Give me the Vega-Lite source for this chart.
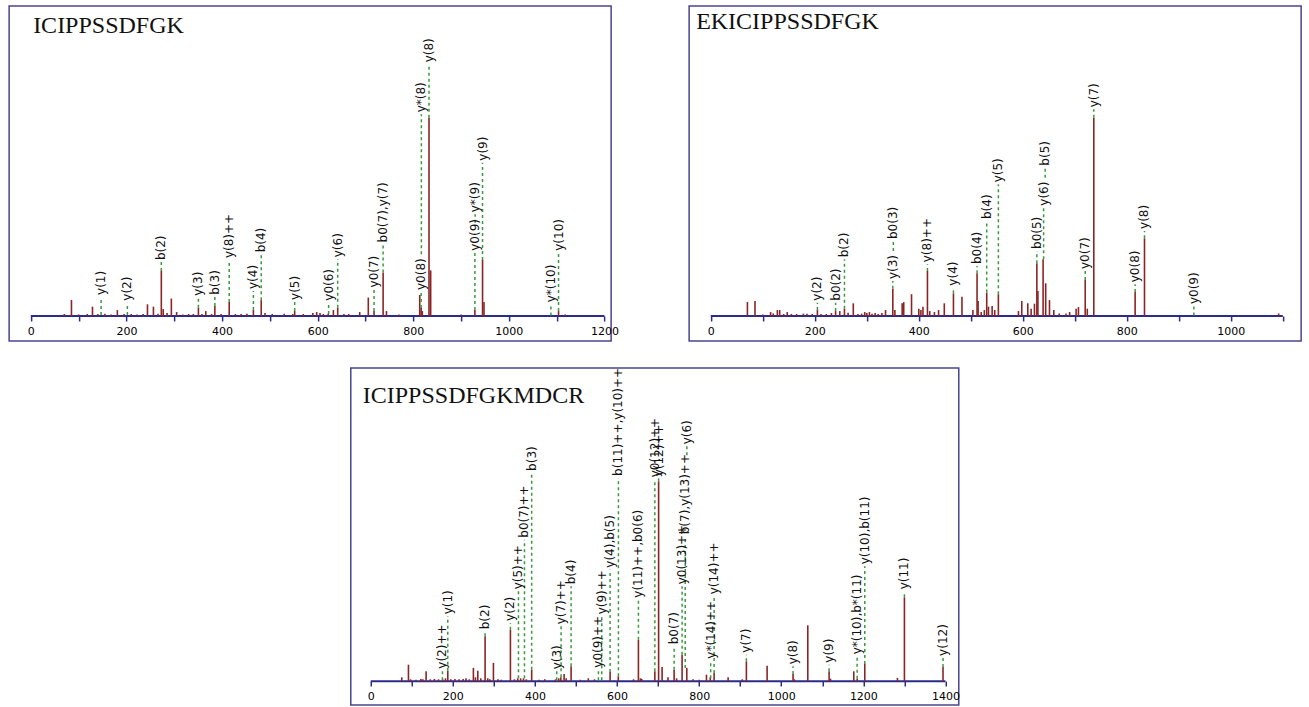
{
  "$schema": "https://vega.github.io/schema/vega-lite/v6.json",
  "padding": {"left": 8, "top": 5, "right": 0, "bottom": 0},
  "background": "white",
  "config": {
    "view": {"stroke": "#4a4590", "strokeWidth": 1.5},
    "axis": {"domain": false, "grid": false, "tickColor": "#2b2b8c", "tickSize": 5, "tickWidth": 1.5, "labelFont": "DejaVu Sans", "labelFontSize": 11, "labelColor": "#000", "labelPadding": 4, "title": null, "labelFlush": false, "labelOverlap": false, "format": "d"},
    "title": {"font": "Liberation Serif", "fontSize": 24, "fontWeight": "normal", "color": "#111", "anchor": "start", "baseline": "alphabetic"}
  },
  "datasets": {
    "p1p": [
      {"mz":70,"h":1},{"mz":85,"h":8.1},{"mz":100,"h":0.8},{"mz":118,"h":1},{"mz":129,"h":4.7},{"mz":140,"h":1},{"mz":155,"h":1.2},{"mz":168,"h":0.8},{"mz":181,"h":3},{"mz":195,"h":1},{"mz":210,"h":1},{"mz":222,"h":0.8},{"mz":235,"h":1},{"mz":244,"h":5.9},{"mz":256.5,"h":4.7},{"mz":266,"h":1.2},{"mz":273,"h":22.7},{"mz":277,"h":3.5},{"mz":285,"h":1.5},{"mz":294,"h":8.8},{"mz":305,"h":2},{"mz":318,"h":0.8},{"mz":330,"h":1},{"mz":340,"h":1},{"mz":350.6,"h":4.2},{"mz":358,"h":1},{"mz":366,"h":2.5},{"mz":378,"h":1},{"mz":385,"h":5},{"mz":398,"h":1},{"mz":415,"h":7},{"mz":428,"h":1},{"mz":440,"h":1},{"mz":452,"h":1.2},{"mz":465.6,"h":3},{"mz":482,"h":8},{"mz":490,"h":1.5},{"mz":505,"h":1},{"mz":530,"h":1.2},{"mz":548,"h":1},{"mz":552,"h":2.5},{"mz":570,"h":1},{"mz":590,"h":1.5},{"mz":598,"h":2},{"mz":605,"h":1.5},{"mz":612,"h":1},{"mz":622,"h":1.2},{"mz":633,"h":3},{"mz":642,"h":4.2},{"mz":655,"h":1},{"mz":665,"h":1},{"mz":688,"h":2},{"mz":706,"h":9.3},{"mz":718,"h":2.5},{"mz":737,"h":21.9},{"mz":744,"h":2.5},{"mz":770,"h":0.8},{"mz":813.6,"h":10.6},{"mz":816.5,"h":4},{"mz":819,"h":2.5},{"mz":833,"h":100},{"mz":836.5,"h":23},{"mz":900,"h":0.8},{"mz":929,"h":3},{"mz":945,"h":28.3},{"mz":948,"h":7},{"mz":1104,"h":2.5},{"mz":1118,"h":0.8}
    ],
    "p1l": [
      {"mz":147,"lo":0.5,"hi":9.6,"lab":"y(1)"},
      {"mz":202,"lo":0.5,"hi":6.7,"lab":"y(2)"},
      {"mz":273,"lo":22.7,"hi":27.2,"lab":"b(2)"},
      {"mz":350.6,"lo":4.2,"hi":9.2,"lab":"y(3)"},
      {"mz":385,"lo":5,"hi":9.7,"lab":"b(3)"},
      {"mz":415,"lo":7,"hi":28.2,"lab":"y(8)++"},
      {"mz":465.6,"lo":3,"hi":12.6,"lab":"y(4)"},
      {"mz":482,"lo":8,"hi":31.1,"lab":"b(4)"},
      {"mz":552,"lo":2.5,"hi":7.1,"lab":"y(5)"},
      {"mz":623,"lo":1,"hi":6.7,"lab":"y0(6)"},
      {"mz":642,"lo":4.2,"hi":28.6,"lab":"y(6)"},
      {"mz":718,"lo":2.5,"hi":13.4,"lab":"y0(7)"},
      {"mz":737,"lo":21.9,"hi":36.1,"lab":"b0(7),y(7)"},
      {"mz":816.5,"lo":4,"hi":12.1,"lab":"y0(8)"},
      {"mz":817,"lo":31.1,"hi":101.7,"lab":"y*(8)"},
      {"mz":833,"lo":100,"hi":126.9,"lab":"y(8)"},
      {"mz":929,"lo":3,"hi":31.9,"lab":"y0(9)"},
      {"mz":929.5,"lo":47,"hi":51.3,"lab":"y*(9)"},
      {"mz":945,"lo":28.3,"hi":77.3,"lab":"y(9)"},
      {"mz":1088,"lo":0.3,"hi":5.9,"lab":"y*(10)"},
      {"mz":1104,"lo":2.5,"hi":31.9,"lab":"y(10)"}
    ],
    "p2p": [
      {"mz":70.4,"h":7.1},{"mz":85,"h":7.6},{"mz":100,"h":0.8},{"mz":115,"h":2},{"mz":120,"h":1.3},{"mz":128,"h":3},{"mz":132.5,"h":3},{"mz":140,"h":1},{"mz":147,"h":2},{"mz":155,"h":1},{"mz":165,"h":1},{"mz":178,"h":1.2},{"mz":185,"h":1.2},{"mz":195,"h":1},{"mz":205,"h":3},{"mz":212,"h":1},{"mz":222,"h":1},{"mz":232,"h":1.5},{"mz":240,"h":2.5},{"mz":248,"h":2.5},{"mz":257,"h":3.7},{"mz":264,"h":1.7},{"mz":274,"h":6.4},{"mz":283,"h":1},{"mz":290,"h":1.2},{"mz":296,"h":2},{"mz":300,"h":1.5},{"mz":305,"h":2},{"mz":310,"h":1.2},{"mz":316,"h":1.5},{"mz":322,"h":1},{"mz":329,"h":1.5},{"mz":336,"h":3},{"mz":350,"h":13.8},{"mz":354,"h":3},{"mz":368,"h":6.4},{"mz":371,"h":7},{"mz":386,"h":11},{"mz":400,"h":3.7},{"mz":404,"h":3},{"mz":408,"h":4.7},{"mz":416.6,"h":22.7},{"mz":421,"h":2.5},{"mz":430,"h":2},{"mz":438,"h":3},{"mz":449,"h":6.4},{"mz":466.6,"h":11.4},{"mz":483,"h":9.7},{"mz":504,"h":3},{"mz":512,"h":21.5},{"mz":514,"h":7.6},{"mz":520,"h":2},{"mz":526,"h":3},{"mz":530.6,"h":11.8},{"mz":534,"h":4.7},{"mz":541,"h":5},{"mz":546,"h":3},{"mz":553,"h":11},{"mz":591.6,"h":2.5},{"mz":598,"h":7.6},{"mz":609.6,"h":6.4},{"mz":616,"h":3.7},{"mz":622.4,"h":6.2},{"mz":627,"h":26.6},{"mz":629,"h":12.6},{"mz":639,"h":28.6},{"mz":644,"h":16.5},{"mz":651.3,"h":8},{"mz":659.6,"h":3},{"mz":670,"h":1.3},{"mz":683,"h":1.3},{"mz":690,"h":2},{"mz":702.5,"h":3.7},{"mz":707,"h":4.5},{"mz":720,"h":18.2},{"mz":724,"h":3.7},{"mz":736.5,"h":100},{"mz":816,"h":12.1},{"mz":834,"h":39.2},{"mz":1092,"h":1.3}
    ],
    "p2l": [
      {"mz":205,"lo":3,"hi":6.7,"lab":"y(2)"},
      {"mz":240,"lo":2.5,"hi":6.7,"lab":"b0(2)"},
      {"mz":257,"lo":3.7,"hi":28.6,"lab":"b(2)"},
      {"mz":350,"lo":13.8,"hi":17.6,"lab":"y(3)"},
      {"mz":351,"lo":32.8,"hi":37.8,"lab":"b0(3)"},
      {"mz":416.6,"lo":22.7,"hi":26.1,"lab":"y(8)++"},
      {"mz":466.6,"lo":11.4,"hi":14.3,"lab":"y(4)"},
      {"mz":512,"lo":21.5,"hi":25.2,"lab":"b0(4)"},
      {"mz":530.6,"lo":11.8,"hi":47.9,"lab":"b(4)"},
      {"mz":553,"lo":11,"hi":66.4,"lab":"y(5)"},
      {"mz":627,"lo":26.6,"hi":32.8,"lab":"b0(5)"},
      {"mz":640,"lo":28.6,"hi":54.6,"lab":"y(6)"},
      {"mz":643,"lo":69.7,"hi":74.8,"lab":"b(5)"},
      {"mz":720,"lo":18.2,"hi":22.7,"lab":"y0(7)"},
      {"mz":736.5,"lo":100,"hi":104.2,"lab":"y(7)"},
      {"mz":816,"lo":12.1,"hi":16,"lab":"y0(8)"},
      {"mz":834,"lo":39.2,"hi":42.9,"lab":"y(8)"},
      {"mz":929,"lo":0.3,"hi":5,"lab":"y0(9)"}
    ],
    "p3p": [
      {"mz":75.5,"h":2},{"mz":91.8,"h":8.3},{"mz":97,"h":1},{"mz":110,"h":0.8},{"mz":122,"h":1.2},{"mz":127,"h":1},{"mz":134.8,"h":5},{"mz":145,"h":1},{"mz":155,"h":1.2},{"mz":165,"h":1},{"mz":175,"h":1},{"mz":182,"h":1.5},{"mz":187.6,"h":5.3},{"mz":195,"h":1},{"mz":205,"h":1.2},{"mz":215,"h":1},{"mz":225,"h":1.2},{"mz":232,"h":1.5},{"mz":240,"h":1},{"mz":250,"h":6.7},{"mz":255,"h":2},{"mz":260.7,"h":5.3},{"mz":268,"h":1.5},{"mz":278.5,"h":22.5},{"mz":285,"h":1.5},{"mz":290,"h":1},{"mz":298.8,"h":9.2},{"mz":310,"h":1},{"mz":318,"h":0.8},{"mz":340.2,"h":25.8},{"mz":350,"h":1},{"mz":358,"h":1.5},{"mz":365,"h":1.5},{"mz":372,"h":1.5},{"mz":379,"h":1},{"mz":392,"h":5.8},{"mz":410,"h":0.8},{"mz":424,"h":1},{"mz":450,"h":1},{"mz":458,"h":1.5},{"mz":463,"h":2},{"mz":471,"h":3.7},{"mz":476,"h":1.5},{"mz":488,"h":7.5},{"mz":510,"h":0.8},{"mz":530,"h":1.5},{"mz":545,"h":1},{"mz":583,"h":4.7},{"mz":603,"h":2.5},{"mz":640,"h":1},{"mz":652,"h":20.8},{"mz":657,"h":1.5},{"mz":660,"h":1.2},{"mz":692,"h":5},{"mz":701.2,"h":100},{"mz":709.7,"h":7.2},{"mz":724,"h":2},{"mz":739,"h":5.8},{"mz":745,"h":1.5},{"mz":758.4,"h":13.3},{"mz":769.8,"h":6.7},{"mz":785,"h":1},{"mz":800,"h":0.8},{"mz":817.8,"h":3.3},{"mz":827,"h":2},{"mz":836.4,"h":4.2},{"mz":870.5,"h":2},{"mz":905,"h":1},{"mz":915,"h":10},{"mz":965.5,"h":7.8},{"mz":1028.7,"h":3.7},{"mz":1032,"h":1},{"mz":1064.6,"h":28},{"mz":1116.5,"h":5},{"mz":1120,"h":1.3},{"mz":1176.6,"h":5},{"mz":1185,"h":1.3},{"mz":1203.4,"h":8.7},{"mz":1283,"h":1.7},{"mz":1300,"h":42},{"mz":1394,"h":7.2}
    ],
    "p3l": [
      {"mz":174.6,"lo":0.5,"hi":5.3,"lab":"y(2)++"},
      {"mz":187.6,"lo":5.3,"hi":32.5,"lab":"y(1)"},
      {"mz":278.5,"lo":22.5,"hi":25,"lab":"b(2)"},
      {"mz":340.2,"lo":25.8,"hi":29.2,"lab":"y(2)"},
      {"mz":359.8,"lo":1.5,"hi":45,"lab":"y(5)++"},
      {"mz":374.4,"lo":1.5,"hi":70.8,"lab":"b0(7)++"},
      {"mz":392,"lo":5.8,"hi":104.2,"lab":"b(3)"},
      {"mz":453,"lo":0.5,"hi":5,"lab":"y(3)"},
      {"mz":463.6,"lo":2,"hi":27.5,"lab":"y(7)++"},
      {"mz":488,"lo":7.5,"hi":47.5,"lab":"b(4)"},
      {"mz":554.6,"lo":0.5,"hi":5.8,"lab":"y0(9)++"},
      {"mz":562.7,"lo":0.5,"hi":32.5,"lab":"y(9)++"},
      {"mz":583,"lo":4.7,"hi":55.8,"lab":"y(4),b(5)"},
      {"mz":603.3,"lo":2.5,"hi":101.7,"lab":"b(11)++,y(10)++"},
      {"mz":652,"lo":20.8,"hi":40.8,"lab":"y(11)++,b0(6)"},
      {"mz":692,"lo":5,"hi":101,"lab":"y0(12)++"},
      {"mz":701.2,"lo":100,"hi":101.5,"lab":"y(12)++"},
      {"mz":739,"lo":5.8,"hi":17.5,"lab":"b0(7)"},
      {"mz":758.4,"lo":13.3,"hi":47.5,"lab":"y0(13)++"},
      {"mz":766,"lo":6.7,"hi":72.5,"lab":"b(7),y(13)++"},
      {"mz":770,"lo":113,"hi":117.5,"lab":"y(6)"},
      {"mz":828,"lo":1.5,"hi":10.3,"lab":"y*(14)++"},
      {"mz":836.4,"lo":4.2,"hi":42.5,"lab":"y(14)++"},
      {"mz":915,"lo":10,"hi":13.3,"lab":"y(7)"},
      {"mz":1028.7,"lo":3.7,"hi":7.5,"lab":"y(8)"},
      {"mz":1116.5,"lo":5,"hi":8.3,"lab":"y(9)"},
      {"mz":1184.8,"lo":1.3,"hi":12.5,"lab":"y*(10),b*(11)"},
      {"mz":1203.4,"lo":8.7,"hi":57.5,"lab":"y(10),b(11)"},
      {"mz":1300,"lo":42,"hi":45,"lab":"y(11)"},
      {"mz":1394,"lo":7.2,"hi":11.7,"lab":"y(12)"}
    ]
  },
  "spacing": 25,
  "center": true,
  "vconcat": [
    {
      "bounds": "flush",
      "hconcat": [
        {
          "width": 602, "height": 335,
          "title": {"text": "ICIPPSSDFGK", "offset": -32, "dx": 24},
          "layer": [
            {"data": {"values": [{}]}, "mark": {"type": "rule", "color": "#2b2b8c", "strokeWidth": 2},
             "encoding": {
               "x": {"datum": 0, "type": "quantitative", "scale": {"domain": [-45.4, 1214], "nice": false, "zero": false}, "axis": {"values": [0,100,200,300,400,500,600,700,800,900,1000,1100,1200], "offset": -25, "labelExpr": "datum.value % 200 === 0 ? datum.label : ''"}},
               "x2": {"datum": 1200},
               "y": {"datum": 0, "type": "quantitative", "scale": {"domain": [-12.6, 156.3], "nice": false, "zero": false}, "axis": null}}},
            {"data": {"name": "p1p"}, "mark": {"type": "rule", "color": "#8b2525", "strokeWidth": 1.6},
             "encoding": {
               "x": {"field": "mz", "type": "quantitative", "scale": {"domain": [-45.4, 1214], "nice": false, "zero": false}, "axis": {"values": [0,100,200,300,400,500,600,700,800,900,1000,1100,1200], "offset": -25, "labelExpr": "datum.value % 200 === 0 ? datum.label : ''"}},
               "y": {"field": "h", "type": "quantitative", "scale": {"domain": [-12.6, 156.3], "nice": false, "zero": false}, "axis": null},
               "y2": {"datum": 0}}},
            {"data": {"name": "p1l"}, "mark": {"type": "rule", "color": "#3a9a3a", "strokeWidth": 1.5, "strokeDash": [3, 3]},
             "encoding": {
               "x": {"field": "mz", "type": "quantitative", "scale": {"domain": [-45.4, 1214], "nice": false, "zero": false}, "axis": {"values": [0,100,200,300,400,500,600,700,800,900,1000,1100,1200], "offset": -25, "labelExpr": "datum.value % 200 === 0 ? datum.label : ''"}},
               "y": {"field": "lo", "type": "quantitative", "scale": {"domain": [-12.6, 156.3], "nice": false, "zero": false}, "axis": null},
               "y2": {"field": "hi"}}},
            {"data": {"name": "p1l"}, "mark": {"type": "text", "angle": 270, "align": "left", "baseline": "middle", "dx": 2, "font": "DejaVu Sans", "fontSize": 12, "color": "#111"},
             "encoding": {
               "x": {"field": "mz", "type": "quantitative", "scale": {"domain": [-45.4, 1214], "nice": false, "zero": false}, "axis": {"values": [0,100,200,300,400,500,600,700,800,900,1000,1100,1200], "offset": -25, "labelExpr": "datum.value % 200 === 0 ? datum.label : ''"}},
               "y": {"field": "hi", "type": "quantitative", "scale": {"domain": [-12.6, 156.3], "nice": false, "zero": false}, "axis": null},
               "text": {"field": "lab"}}}
          ]
        },
        {
          "width": 612, "height": 335,
          "title": {"text": "EKICIPPSSDFGK", "offset": -28, "dx": 7},
          "layer": [
            {"data": {"values": [{}]}, "mark": {"type": "rule", "color": "#2b2b8c", "strokeWidth": 2},
             "encoding": {
               "x": {"datum": 0, "type": "quantitative", "scale": {"domain": [-41.7, 1135.2], "nice": false, "zero": false}, "axis": {"values": [0,100,200,300,400,500,600,700,800,900,1000,1100], "offset": -25, "labelExpr": "datum.value % 200 === 0 ? datum.label : ''"}},
               "x2": {"datum": 1100},
               "y": {"datum": 0, "type": "quantitative", "scale": {"domain": [-12.6, 156.3], "nice": false, "zero": false}, "axis": null}}},
            {"data": {"name": "p2p"}, "mark": {"type": "rule", "color": "#8b2525", "strokeWidth": 1.6},
             "encoding": {
               "x": {"field": "mz", "type": "quantitative", "scale": {"domain": [-41.7, 1135.2], "nice": false, "zero": false}, "axis": {"values": [0,100,200,300,400,500,600,700,800,900,1000,1100], "offset": -25, "labelExpr": "datum.value % 200 === 0 ? datum.label : ''"}},
               "y": {"field": "h", "type": "quantitative", "scale": {"domain": [-12.6, 156.3], "nice": false, "zero": false}, "axis": null},
               "y2": {"datum": 0}}},
            {"data": {"name": "p2l"}, "mark": {"type": "rule", "color": "#3a9a3a", "strokeWidth": 1.5, "strokeDash": [3, 3]},
             "encoding": {
               "x": {"field": "mz", "type": "quantitative", "scale": {"domain": [-41.7, 1135.2], "nice": false, "zero": false}, "axis": {"values": [0,100,200,300,400,500,600,700,800,900,1000,1100], "offset": -25, "labelExpr": "datum.value % 200 === 0 ? datum.label : ''"}},
               "y": {"field": "lo", "type": "quantitative", "scale": {"domain": [-12.6, 156.3], "nice": false, "zero": false}, "axis": null},
               "y2": {"field": "hi"}}},
            {"data": {"name": "p2l"}, "mark": {"type": "text", "angle": 270, "align": "left", "baseline": "middle", "dx": 2, "font": "DejaVu Sans", "fontSize": 12, "color": "#111"},
             "encoding": {
               "x": {"field": "mz", "type": "quantitative", "scale": {"domain": [-41.7, 1135.2], "nice": false, "zero": false}, "axis": {"values": [0,100,200,300,400,500,600,700,800,900,1000,1100], "offset": -25, "labelExpr": "datum.value % 200 === 0 ? datum.label : ''"}},
               "y": {"field": "hi", "type": "quantitative", "scale": {"domain": [-12.6, 156.3], "nice": false, "zero": false}, "axis": null},
               "text": {"field": "lab"}}}
          ]
        }
      ],
      "spacing": 78
    },
    {
      "width": 608, "height": 337,
      "title": {"text": "ICIPPSSDFGKMDCR", "offset": -40, "dx": 12},
      "layer": [
        {"data": {"values": [{}]}, "mark": {"type": "rule", "color": "#2b2b8c", "strokeWidth": 2},
         "encoding": {
           "x": {"datum": 0, "type": "quantitative", "scale": {"domain": [-48.7, 1432.4], "nice": false, "zero": false}, "axis": {"values": [0,100,200,300,400,500,600,700,800,900,1000,1100,1200,1300,1400], "offset": -24, "labelExpr": "datum.value % 200 === 0 ? datum.label : ''"}},
           "x2": {"datum": 1400},
           "y": {"datum": 0, "type": "quantitative", "scale": {"domain": [-11.85, 156.65], "nice": false, "zero": false}, "axis": null}}},
        {"data": {"name": "p3p"}, "mark": {"type": "rule", "color": "#8b2525", "strokeWidth": 1.6},
         "encoding": {
           "x": {"field": "mz", "type": "quantitative", "scale": {"domain": [-48.7, 1432.4], "nice": false, "zero": false}, "axis": {"values": [0,100,200,300,400,500,600,700,800,900,1000,1100,1200,1300,1400], "offset": -24, "labelExpr": "datum.value % 200 === 0 ? datum.label : ''"}},
           "y": {"field": "h", "type": "quantitative", "scale": {"domain": [-11.85, 156.65], "nice": false, "zero": false}, "axis": null},
           "y2": {"datum": 0}}},
        {"data": {"name": "p3l"}, "mark": {"type": "rule", "color": "#3a9a3a", "strokeWidth": 1.5, "strokeDash": [3, 3]},
         "encoding": {
           "x": {"field": "mz", "type": "quantitative", "scale": {"domain": [-48.7, 1432.4], "nice": false, "zero": false}, "axis": {"values": [0,100,200,300,400,500,600,700,800,900,1000,1100,1200,1300,1400], "offset": -24, "labelExpr": "datum.value % 200 === 0 ? datum.label : ''"}},
           "y": {"field": "lo", "type": "quantitative", "scale": {"domain": [-11.85, 156.65], "nice": false, "zero": false}, "axis": null},
           "y2": {"field": "hi"}}},
        {"data": {"name": "p3l"}, "mark": {"type": "text", "angle": 270, "align": "left", "baseline": "middle", "dx": 2, "font": "DejaVu Sans", "fontSize": 12, "color": "#111"},
         "encoding": {
           "x": {"field": "mz", "type": "quantitative", "scale": {"domain": [-48.7, 1432.4], "nice": false, "zero": false}, "axis": {"values": [0,100,200,300,400,500,600,700,800,900,1000,1100,1200,1300,1400], "offset": -24, "labelExpr": "datum.value % 200 === 0 ? datum.label : ''"}},
           "y": {"field": "hi", "type": "quantitative", "scale": {"domain": [-11.85, 156.65], "nice": false, "zero": false}, "axis": null},
           "text": {"field": "lab"}}}
      ]
    }
  ]
}
